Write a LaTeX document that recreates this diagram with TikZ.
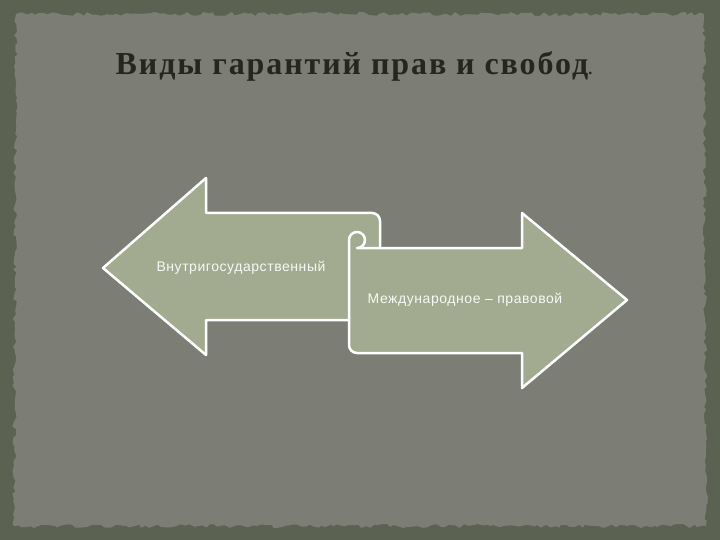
\documentclass[tikz,border=0pt]{standalone}
\usepackage{fontspec}
\setmainfont{Liberation Serif}
\newfontfamily\arr[LetterSpace=4]{Liberation Sans}
\newfontfamily\ttl[LetterSpace=6]{Liberation Serif}
\usetikzlibrary{decorations.pathmorphing}
\definecolor{outerbg}{HTML}{5C6252}
\definecolor{panel}{HTML}{7C7E75}
\definecolor{arrfill}{HTML}{A2AB90}
\definecolor{titlec}{HTML}{25261E}
\tikzset{arrowshape/.style={fill=arrfill,draw=white,line width=2.5pt,line join=round},
 lbl/.style={font=\arr\fontsize{14}{16}\selectfont,text=white!92!arrfill}}
\begin{document}
\begin{tikzpicture}[x=1pt,y=-1pt]
\useasboundingbox (0,0) rectangle (720,540);
\fill[outerbg] (0,0) rectangle (720,540);
\fill[panel,decorate,decoration={random steps,segment length=4pt,amplitude=2pt}] (16,14) -- (704,14) -- (706,526) -- (14,526) -- cycle;
\node[font=\ttl\bfseries\fontsize{32}{36}\selectfont,text=titlec] (title) at (354,66) {Виды гарантий прав и свобод{\fontsize{16}{16}\selectfont.}};
% left arrow
\draw[arrowshape] (103,268) -- (206,178) -- (206,213) -- (372,213) arc[start angle=-90,end angle=0,radius=8] -- (380,320) -- (206,320) -- (206,355) -- cycle;
% right arrow
\draw[arrowshape] (522,248) -- (522,213) -- (627,300) -- (522,388) -- (522,353) -- (357,353)
  arc[start angle=90,end angle=180,radius=8] -- (349,240)
  arc[start angle=180,end angle=360,radius=8] arc[start angle=0,end angle=90,radius=8] -- cycle;
\node[lbl] (l) at (241,268) {Внутригосударственный};
\node[lbl] (r) at (465,300) {Международное – правовой};
\end{tikzpicture}
\end{document}
